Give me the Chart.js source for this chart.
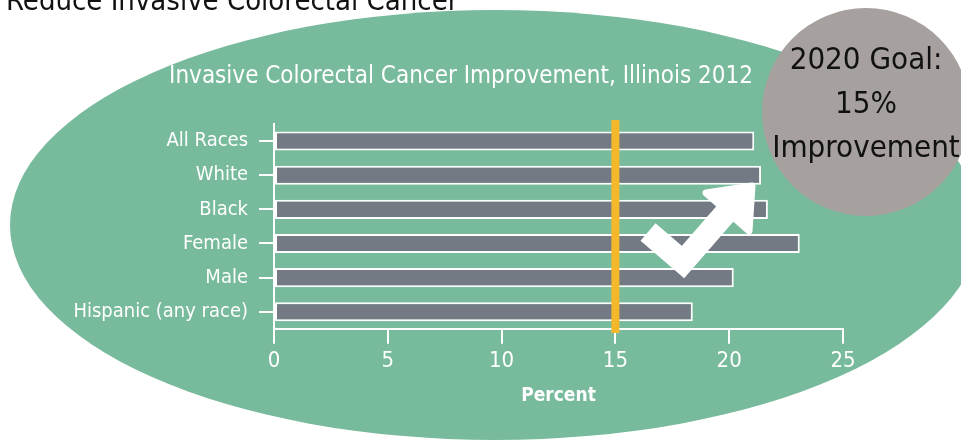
<!DOCTYPE html>
<html>
<head>
<meta charset="utf-8">
<script src="https://cdn.jsdelivr.net/npm/chart.js@4.4.1/dist/chart.umd.min.js"></script>
<style>
  html, body { margin: 0; padding: 0; background: #ffffff; }
  canvas { display: block; }
</style>
</head>
<body>
<canvas id="chart" width="961" height="442"></canvas>
<script>
// Data
const categories = ['All Races', 'White', 'Black', 'Female', 'Male', 'Hispanic (any race)'];
const percentValues = [21.1, 21.4, 21.7, 23.1, 20.2, 18.4];
const xTickValues = [0, 5, 10, 15, 20, 25];
const goalValue = 15;

const chartTitle = 'Invasive Colorectal Cancer Improvement, Illinois 2012';
const headerText = 'Reduce Invasive Colorectal Cancer';
const goalLines = ['2020 Goal:', '15%', 'Improvement'];

const narrowFont = "'DejaVu Sans Condensed', 'DejaVu Sans', sans-serif";

// Colours
const green = '#77ba9c';
const barGray = '#737a83';
const circleGray = '#a6a09f';
const goalOrange = '#f6b82b';

// Background ellipse, header, title, goal line, arrow and goal circle
const decorPlugin = {
  id: 'decor',
  beforeDraw(chart) {
    const c = chart.ctx;
    c.save();
    c.fillStyle = green;
    c.beginPath();
    c.ellipse(495, 225, 485, 215, 0, 0, Math.PI * 2);
    c.fill();

    c.fillStyle = '#111';
    c.font = '29px ' + narrowFont;
    c.textAlign = 'left';
    c.textBaseline = 'alphabetic';
    c.fillText(headerText, 6, 10);

    c.fillStyle = '#ffffff';
    c.font = '24px ' + narrowFont;
    c.textAlign = 'center';
    c.textBaseline = 'middle';
    c.fillText(chartTitle, 461, 77);
    c.restore();
  },
  afterDatasetsDraw(chart) {
    const c = chart.ctx;
    const x = chart.scales.x.getPixelForValue(goalValue);
    c.save();
    c.fillStyle = goalOrange;
    c.fillRect(x - 4, 120, 8, 213);

    // white check arrow
    c.strokeStyle = '#ffffff';
    c.fillStyle = '#ffffff';
    c.lineWidth = 23;
    c.lineJoin = 'miter';
    c.lineCap = 'butt';
    c.beginPath();
    c.moveTo(648, 232);
    c.lineTo(683, 262);
    c.lineTo(730, 208);
    c.stroke();
    c.lineWidth = 7;
    c.lineJoin = 'round';
    c.beginPath();
    c.moveTo(752, 186);
    c.lineTo(706, 193);
    c.lineTo(749, 231);
    c.closePath();
    c.fill();
    c.stroke();
    c.restore();
  },
  afterDraw(chart) {
    const c = chart.ctx;
    c.save();
    c.fillStyle = circleGray;
    c.beginPath();
    c.arc(866, 112, 104, 0, Math.PI * 2);
    c.fill();
    c.fillStyle = '#111';
    c.font = '31px ' + narrowFont;
    c.textAlign = 'center';
    c.textBaseline = 'middle';
    goalLines.forEach((t, i) => c.fillText(t, 866, 61 + i * 44));
    c.restore();
  }
};

const chart = new Chart(document.getElementById('chart'), {
  type: 'bar',
  data: {
    labels: categories,
    datasets: [{
      data: percentValues,
      backgroundColor: barGray,
      borderColor: '#ffffff',
      borderWidth: 2,
      borderSkipped: false,
      barPercentage: 0.56,
      categoryPercentage: 1.0
    }]
  },
  options: {
    indexAxis: 'y',
    responsive: false,
    animation: false,
    layout: { padding: { top: 124, left: 0, right: 118, bottom: 35 } },
    plugins: {
      legend: { display: false },
      tooltip: { enabled: false },
      title: { display: false }
    },
    scales: {
      x: {
        min: 0,
        max: 25,
        afterBuildTicks(scale) {
          scale.ticks = xTickValues.map(v => ({ value: v }));
        },
        grid: { drawOnChartArea: false, drawTicks: true, tickLength: 15, color: '#ffffff', lineWidth: 2 },
        border: { color: '#ffffff', width: 2 },
        ticks: { color: '#ffffff', padding: 4, font: { family: narrowFont, size: 22 } },
        title: {
          display: true,
          text: 'Percent',
          color: '#ffffff',
          padding: { top: 6, bottom: 0 },
          font: { family: narrowFont, size: 19, weight: 'bold' }
        }
      },
      y: {
        afterFit(scale) { scale.width = 274; },
        grid: { offset: false, drawOnChartArea: false, drawTicks: true, tickLength: 15, color: '#ffffff', lineWidth: 2 },
        border: { color: '#ffffff', width: 2 },
        ticks: { color: '#ffffff', padding: 11, font: { family: narrowFont, size: 20 } }
      }
    }
  },
  plugins: [decorPlugin]
});
</script>
</body>
</html>
